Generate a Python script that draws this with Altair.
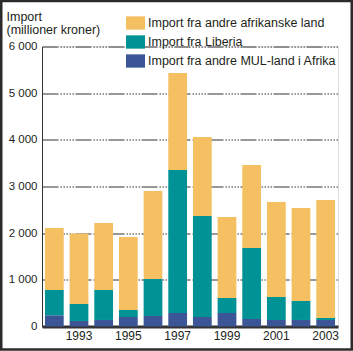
import altair as alt
import pandas as pd

years = [str(y) for y in range(1992, 2004)]
mul = [240, 118, 140, 204, 225, 290, 204, 290, 161, 140, 140, 140]
liberia = [542, 364, 642, 150, 793, 3063, 2164, 321, 1521, 492, 406, 42]
others = [1328, 1513, 1436, 1564, 1885, 2079, 1692, 1735, 1778, 2036, 1994, 2529]

s_others = "Import fra andre afrikanske land"
s_lib = "Import fra Liberia"
s_mul = "Import fra andre MUL-land i Afrika"
series_names = [s_others, s_lib, s_mul]
series_colors = ["#F5C062", "#009294", "#3B5597"]
x_labels = ["1993", "1995", "1997", "1999", "2001", "2003"]
y_ticks = [0, 1000, 2000, 3000, 4000, 5000, 6000]

rows = []
for i, y in enumerate(years):
    rows.append({"year": y, "series": s_mul, "value": mul[i], "rank": 0})
    rows.append({"year": y, "series": s_lib, "value": liberia[i], "rank": 1})
    rows.append({"year": y, "series": s_others, "value": others[i], "rank": 2})
df = pd.DataFrame(rows)

FONT = "Liberation Sans"
TXT = "#231F20"

bars = alt.Chart(df).mark_bar().encode(
    x=alt.X("year:O", title=None,
            scale=alt.Scale(paddingInner=0.24, paddingOuter=0.12),
            axis=alt.Axis(values=x_labels, labelAngle=0, ticks=False,
                          domainWidth=3, domainColor="#333333",
                          labelFontSize=12, labelColor=TXT, labelFont=FONT,
                          labelPadding=4)),
    y=alt.Y("value:Q", stack="zero",
            scale=alt.Scale(domain=[0, 6000], nice=False),
            axis=alt.Axis(values=y_ticks, title=["Import", "(millioner kroner)"],
                          titleAngle=0, titleAlign="left", titleBaseline="alphabetic",
                          titleX=-36, titleY=-26.5, titleLineHeight=13,
                          titleFontSize=12.5, titleFontWeight="normal", titleFont=FONT,
                          titleColor=TXT,
                          labelExpr="replace(format(datum.value, ','), ',', ' ')",
                          labelFontSize=11.5, labelColor=TXT, labelFont=FONT,
                          ticks=False, labelPadding=5,
                          domainColor="#333333", domainWidth=1,
                          grid=True, gridColor="#333333", gridWidth=1,
                          gridDash=[16, 2, 1.5, 1.5, 1.5, 1.5, 1.5, 1.5, 1.5, 1.5, 1.5, 1.5])),
    color=alt.Color("series:N",
                    scale=alt.Scale(domain=series_names, range=series_colors),
                    legend=alt.Legend(title=None, orient="none", legendX=84, legendY=-33,
                                      symbolType="M-1,-0.7H1V0.7H-1Z", symbolSize=361,
                                      symbolStrokeWidth=0, symbolOpacity=1,
                                      labelFontSize=12.5, labelFont=FONT, labelColor=TXT,
                                      labelOffset=3, rowPadding=2, padding=0,
                                      labelLimit=300)),
    order=alt.Order("rank:Q", sort="ascending"),
)

frame = alt.Chart(pd.DataFrame({"f": [0]})).mark_rect(
    fill=None, stroke="#2B2B2B", strokeWidth=2.5
).encode(
    x=alt.value(-40.75), x2=alt.value(309.75),
    y=alt.value(-45.5), y2=alt.value(303),
)

chart = alt.layer(bars, frame).properties(
    width=296, height=280,
    autosize=alt.AutoSizeParams(type="none"),
    padding={"left": 42, "top": 46.5, "right": 15, "bottom": 24.5},
).configure_view(stroke=None).configure(background="white")

chart.save("out.html", embed_options={"renderer": "svg", "actions": False})
